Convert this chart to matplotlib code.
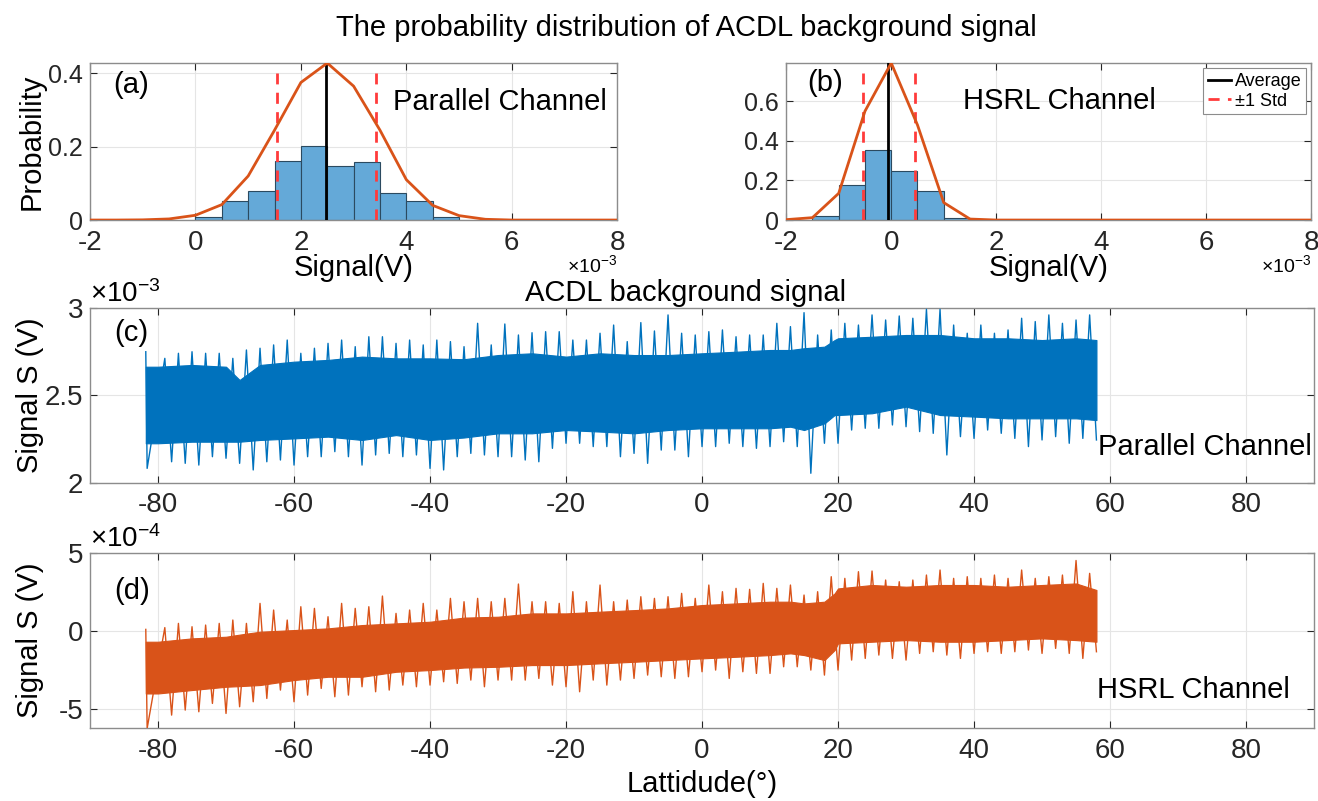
import numpy as np
import matplotlib.pyplot as plt
from matplotlib.ticker import FormatStrFormatter

plt.rcParams['font.family'] = ['Liberation Sans', 'DejaVu Sans']
plt.rcParams['mathtext.fontset'] = 'custom'
plt.rcParams['mathtext.rm'] = 'Liberation Sans'
plt.rcParams['mathtext.it'] = 'Liberation Sans:italic'
plt.rcParams['axes.unicode_minus'] = False

# ---- histogram data (signal in units of 1e-3 V) ----
bin_left_a = [0, 0.5, 1.0, 1.5, 2.0, 2.5, 3.0, 3.5, 4.0, 4.5]
prob_a = [0.007, 0.052, 0.078, 0.161, 0.203, 0.148, 0.157, 0.075, 0.052, 0.007]
bin_left_b = [-1.5, -1.0, -0.5, 0.0, 0.5, 1.0]
prob_b = [0.020, 0.175, 0.356, 0.247, 0.145, 0.012]

fit_x = [-2, -1.5, -1, -0.5, 0, 0.5, 1, 1.5, 2, 2.5, 3, 3.5, 4, 4.5, 5, 5.5, 6, 6.5, 7, 7.5, 8]
fit_a = [0, 0, 0.0005, 0.003, 0.013, 0.042, 0.12, 0.245, 0.375, 0.428, 0.365, 0.245,
         0.11, 0.04, 0.012, 0.002, 0, 0, 0, 0, 0]
fit_b = [0.002, 0.012, 0.135, 0.55, 0.793, 0.48, 0.088, 0.005, 0, 0, 0, 0,
         0, 0, 0, 0, 0, 0, 0, 0, 0]

mean_a, std_lo_a, std_hi_a = 2.48, 1.54, 3.42
mean_b, std_lo_b, std_hi_b = -0.07, -0.54, 0.46

# ---- background signal along latitude ----
# spike maxima / minima read per 2 degree bin
lat_top = np.r_[-81.8, np.arange(-79, 58, 2)]
lat_bot = np.r_[-81.6, np.arange(-78, 59, 2)]

par_top = [2.751, 2.713, 2.742, 2.751, 2.742, 2.742, 2.713, 2.761, 2.771, 2.790, 2.818, 2.742,
           2.771, 2.799, 2.818, 2.780, 2.837, 2.837, 2.799, 2.818, 2.790, 2.818, 2.809, 2.780,
           2.914, 2.790, 2.910, 2.847, 2.860, 2.866, 2.866, 2.818, 2.818, 2.857, 2.904, 2.809,
           2.918, 2.870, 2.962, 2.857, 2.847, 2.866, 2.876, 2.837, 2.847, 2.847, 2.914,
           2.895, 2.975, 2.847, 2.876, 2.914, 2.904, 2.962, 2.933, 2.956, 2.943, 2.994, 2.994,
           2.904, 2.857, 2.904, 2.857, 2.876, 2.943, 2.924, 2.962, 2.914, 2.933, 2.962]
par_bot = [2.082, 2.120, 2.111, 2.101, 2.149, 2.140, 2.111, 2.073, 2.120, 2.130, 2.101, 2.149,
           2.149, 2.178, 2.149, 2.101, 2.159, 2.168, 2.149, 2.159, 2.082, 2.073, 2.149, 2.168,
           2.159, 2.149, 2.149, 2.130, 2.120, 2.197, 2.226, 2.226, 2.207, 2.207, 2.149, 2.168,
           2.111, 2.187, 2.187, 2.149, 2.207, 2.207, 2.226, 2.207, 2.197, 2.207, 2.235,
           2.207, 2.054, 2.226, 2.226, 2.302, 2.312, 2.312, 2.331, 2.321, 2.293, 2.283, 2.159,
           2.264, 2.254, 2.302, 2.283, 2.254, 2.207, 2.245, 2.264, 2.226, 2.254, 2.245]

hsrl_top = [0.085, 0.200, 0.470, 0.256, 0.363, 0.470, 0.684, 0.470, 1.752, 1.325, 0.684, 1.538,
            1.432, 0.897, 1.752, 1.432, 1.538, 2.222, 1.111, 1.325, 1.752, 1.325, 2.073, 1.859,
            2.073, 1.859, 2.073, 2.991, 1.859, 1.859, 1.752, 2.500, 1.859, 2.927, 1.859, 1.966,
            2.179, 2.073, 2.179, 2.393, 2.073, 2.927, 2.500, 2.714, 2.650, 3.034, 2.714,
            2.927, 2.286, 2.500, 3.462, 3.355, 3.782, 3.825, 3.248, 3.141, 3.248, 3.568, 3.889,
            3.355, 3.462, 3.355, 3.568, 3.355, 3.889, 3.355, 3.462, 3.568, 4.500, 3.675]
hsrl_bot = [-6.26, -5.406, -5.085, -5.192, -4.658, -5.300, -4.872, -4.551, -4.338, -3.803, -4.551, -4.124,
            -3.697, -4.231, -4.124, -3.590, -3.910, -3.803, -3.483, -3.590, -3.483, -3.269, -3.376, -3.162,
            -3.590, -3.162, -3.162, -3.162, -3.056, -3.483, -3.590, -3.910, -3.162, -3.483, -3.162, -3.056,
            -2.842, -2.949, -3.056, -2.949, -2.628, -2.521, -3.056, -2.628, -2.735, -2.735, -2.308,
            -2.308, -2.521, -2.842, -2.521, -1.880, -1.774, -1.560, -1.774, -1.880, -1.453, -1.346, -1.560,
            -1.774, -1.453, -1.346, -1.453, -1.346, -1.239, -1.453, -1.132, -1.453, -1.774, -1.346]

# dense (visually solid) part of the noise band
core_lat = [-81.8, -80, -75, -70, -68, -65, -60, -55, -50, -45, -40, -35, -30, -25, -20, -15, -10,
            -5, 0, 5, 10, 13, 15, 18, 19.5, 20, 25, 30, 35, 40, 45, 50, 55, 58]
par_core_hi = [2.665, 2.665, 2.675, 2.665, 2.589, 2.675, 2.694, 2.704, 2.723, 2.713, 2.713, 2.708,
               2.732, 2.742, 2.723, 2.742, 2.732, 2.732, 2.742, 2.751, 2.761, 2.761, 2.771, 2.780,
               2.818, 2.828, 2.837, 2.847, 2.847, 2.828, 2.828, 2.818, 2.828, 2.818]
par_core_lo = [2.226, 2.226, 2.235, 2.235, 2.235, 2.245, 2.254, 2.264, 2.245, 2.273, 2.245, 2.259,
               2.283, 2.283, 2.302, 2.293, 2.283, 2.302, 2.312, 2.312, 2.312, 2.321, 2.302, 2.340,
               2.388, 2.388, 2.398, 2.436, 2.388, 2.379, 2.369, 2.369, 2.369, 2.359]
hsrl_core_hi = [-0.705, -0.705, -0.49, -0.385, -0.25, -0.064, 0.043, 0.15, 0.363, 0.47, 0.577, 0.84,
                0.897, 1.11, 1.11, 1.22, 1.32, 1.43, 1.645, 1.75, 1.86, 1.86, 1.75, 1.86,
                2.39, 2.71, 2.93, 2.82, 2.93, 2.93, 2.82, 2.93, 3.03, 2.61]
hsrl_core_lo = [-4.02, -4.02, -3.80, -3.59, -3.55, -3.48, -3.16, -2.95, -2.95, -2.63, -2.52, -2.36,
                -2.31, -2.20, -2.20, -2.09, -1.99, -1.88, -1.77, -1.67, -1.56, -1.45, -1.56, -1.88,
                -1.24, -0.81, -0.705, -0.60, -0.705, -0.705, -0.60, -0.49, -0.60, -0.705]

BLUE = '#0072BD'
ORANGE = '#D95319'
BAR = '#64A9D8'
BAR_EDGE = '#2B4A60'
RED = '#FF3B3B'

fig = plt.figure(figsize=(13.18, 8.01), dpi=100)


def style(ax, ysize=20):
    ax.tick_params(direction='in', top=True, right=True, length=5, width=0.8,
                   colors='#262626', labelsize=20)
    ax.tick_params(axis='x', pad=7)
    ax.tick_params(axis='y', pad=5, labelsize=ysize)
    for s in ax.spines.values():
        s.set_color('#8C8C8C')
        s.set_linewidth(1.0)
    ax.grid(True, color='#E5E5E5', lw=0.8)
    ax.set_axisbelow(True)
    ax.xaxis.set_major_formatter(FormatStrFormatter('%g'))
    ax.yaxis.set_major_formatter(FormatStrFormatter('%g'))


def hist_panel(rect, left, prob, fit, mean, s_lo, s_hi, top, std_h):
    ax = fig.add_axes(rect)
    ax.bar(left, prob, width=0.5, align='edge', color=BAR, edgecolor=BAR_EDGE, lw=0.8, zorder=2)
    ax.plot([mean, mean], [0, top], color='k', lw=2, zorder=3, label='Average')
    ax.plot([s_lo, s_lo], [0, std_h], '--', color=RED, lw=2, dashes=(4, 3), zorder=3, label='±1 Std')
    ax.plot([s_hi, s_hi], [0, std_h], '--', color=RED, lw=2, dashes=(4, 3), zorder=3)
    ax.plot(fit_x, fit, color=ORANGE, lw=2, zorder=4)
    ax.set_xlim(-2, 8)
    ax.set_ylim(0, top)
    ax.set_xticks([-2, 0, 2, 4, 6, 8])
    style(ax, ysize=18)
    ax.set_xlabel('Signal(V)', fontsize=21, va='center')
    ax.xaxis.set_label_coords(0.5, -0.306)
    ax.text(1.0, -0.29, r'$\times10^{-3}$', transform=ax.transAxes, ha='right', va='center', fontsize=14)
    return ax


ax_a = hist_panel([0.0683, 0.7253, 0.400, 0.196], bin_left_a, prob_a, fit_a,
                  mean_a, std_lo_a, std_hi_a, 0.428, 0.40)
ax_a.set_yticks([0, 0.2, 0.4])
ax_a.set_ylabel('Probability', fontsize=21, va='center')
ax_a.yaxis.set_label_coords(-0.11, 0.5)
ax_a.text(-1.56, 0.367, '(a)', fontsize=21, va='center')
ax_a.text(3.75, 0.322, 'Parallel Channel', fontsize=21, va='center')

ax_b = hist_panel([0.5965, 0.7253, 0.3985, 0.196], bin_left_b, prob_b, fit_b,
                  mean_b, std_lo_b, std_hi_b, 0.793, 0.745)
ax_b.set_yticks([0, 0.2, 0.4, 0.6])
ax_b.text(-1.59, 0.69, '(b)', fontsize=21, va='center')
ax_b.text(1.36, 0.60, 'HSRL Channel', fontsize=21, va='center')
leg = ax_b.legend(loc='upper right', fontsize=13, handlelength=1.3, handletextpad=0.2,
                  borderpad=0.25, labelspacing=0.15, borderaxespad=0.3, fancybox=False,
                  edgecolor='#8C8C8C', framealpha=1)
leg.get_frame().set_linewidth(0.8)


def series_panel(rect, top, bot, core_hi, core_lo, color, ylim, yticks):
    ax = fig.add_axes(rect)
    ax.fill_between(core_lat, core_lo, core_hi, color=color, lw=0.8, edgecolor=color, zorder=2)
    x = np.empty(2 * len(lat_top))
    x[0::2] = lat_top
    x[1::2] = lat_bot
    y = np.empty_like(x)
    y[0::2] = top
    y[1::2] = bot
    ax.plot(x, y, color=color, lw=1.0, zorder=3)
    ax.set_xlim(-90, 90)
    ax.set_ylim(*ylim)
    ax.set_xticks(np.arange(-80, 81, 20))
    ax.set_yticks(yticks)
    style(ax)
    ax.set_ylabel('Signal S (V)', fontsize=21, va='center')
    ax.yaxis.set_label_coords(-0.049, 0.5)
    return ax


ax_c = series_panel([0.0683, 0.3974, 0.9287, 0.2177], par_top, par_bot, par_core_hi, par_core_lo,
                    BLUE, (2, 3), [2, 2.5, 3])
ax_c.text(0.0, 1.0, r'$\times10^{-3}$', transform=ax_c.transAxes, ha='left', va='bottom', fontsize=20)
ax_c.text(-86.5, 2.858, '(c)', fontsize=21, va='center')
ax_c.text(58.3, 2.205, 'Parallel Channel', fontsize=21, va='center')

ax_d = series_panel([0.0683, 0.0908, 0.9287, 0.2192], hsrl_top, hsrl_bot, hsrl_core_hi, hsrl_core_lo,
                    ORANGE, (-6.25, 5), [-5, 0, 5])
ax_d.text(0.0, 1.0, r'$\times10^{-4}$', transform=ax_d.transAxes, ha='left', va='bottom', fontsize=20)
ax_d.text(-86.5, 2.55, '(d)', fontsize=21, va='center')
ax_d.text(58.1, -3.8, 'HSRL Channel', fontsize=21, va='center')
ax_d.set_xlabel('Lattidude(°)', fontsize=21, va='center')
ax_d.xaxis.set_label_coords(0.5, -0.32)

fig.text(0.5205, 0.965, 'The probability distribution of ACDL background signal',
         ha='center', va='center', fontsize=21)
fig.text(0.52, 0.634, 'ACDL background signal', ha='center', va='center', fontsize=21)

fig.savefig('out.png', dpi=100)
